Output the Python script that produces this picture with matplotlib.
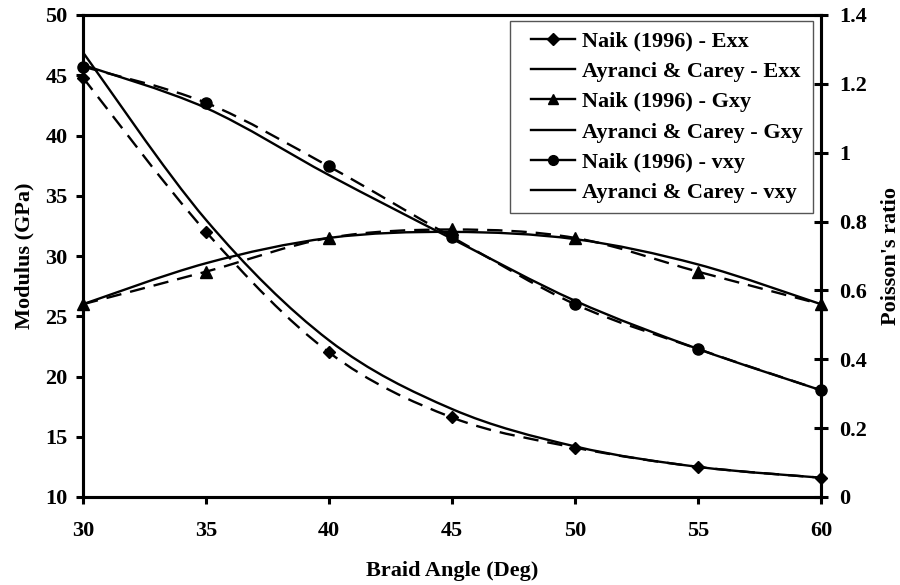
import numpy as np
import matplotlib.pyplot as plt
from matplotlib.path import Path
from matplotlib.patches import PathPatch
from matplotlib.lines import Line2D
from matplotlib.legend_handler import HandlerLine2D

plt.rcParams['font.family'] = ['Liberation Serif', 'DejaVu Serif']
plt.rcParams['font.weight'] = 'bold'

angle = [30, 35, 40, 45, 50, 55, 60]

naik_exx = [44.8, 32.0, 22.0, 16.6, 14.1, 12.5, 11.6]
ayr_exx = [46.9, 33.0, 23.0, 17.3, 14.2, 12.5, 11.6]
naik_gxy = [26.0, 28.7, 31.5, 32.2, 31.5, 28.7, 26.0]
ayr_gxy = [26.0, 29.4, 31.5, 32.0, 31.4, 29.3, 26.0]
naik_vxy = [1.25, 1.145, 0.96, 0.755, 0.56, 0.43, 0.31]
ayr_vxy = [1.255, 1.13, 0.935, 0.75, 0.57, 0.43, 0.31]

labels = ['Naik (1996) - Exx', 'Ayranci & Carey - Exx', 'Naik (1996) - Gxy',
          'Ayranci & Carey - Gxy', 'Naik (1996) - vxy', 'Ayranci & Carey - vxy']


def smooth_path(x, y):
    # excel style smoothed line: cubic bezier through every point
    p = np.column_stack([x, y]).astype(float)
    ext = np.vstack([p[0], p, p[-1]])
    verts = [p[0]]
    codes = [Path.MOVETO]
    for i in range(len(p) - 1):
        c1 = ext[i + 1] + (ext[i + 2] - ext[i]) / 6
        c2 = ext[i + 2] - (ext[i + 3] - ext[i + 1]) / 6
        verts += [c1, c2, ext[i + 2]]
        codes += [Path.CURVE4] * 3
    return Path(verts, codes)


dash = (0, (6.5, 3.8))
FS = 16
LW = 1.7

fig = plt.figure(figsize=(9, 5.85), dpi=100)
ax = fig.add_axes([83 / 900, 1 - 497 / 585, 738 / 900, 482 / 585])
ax2 = ax.twinx()

ax.set_xlim(30, 60)
ax.set_ylim(10, 50)
ax2.set_ylim(0, 1.4)


def draw(a, y, style, marker=None, ms=7):
    a.add_patch(PathPatch(smooth_path(angle, y), fill=False, lw=LW,
                          ls=style, edgecolor='black', clip_on=False))
    if marker:
        a.plot(angle, y, ls='none', marker=marker, ms=ms, color='black', clip_on=False, zorder=5)


draw(ax, naik_exx, dash, 'D', 6.5)
draw(ax, ayr_exx, '-')
draw(ax, naik_gxy, dash, '^', 8)
draw(ax, ayr_gxy, '-')
draw(ax2, naik_vxy, dash, 'o', 8)
draw(ax2, ayr_vxy, '-')

ax.set_xticks(angle)
ax.set_yticks(np.arange(10, 51, 5))
ax2.set_yticks([0, 0.2, 0.4, 0.6, 0.8, 1, 1.2, 1.4])
ax2.set_yticklabels(['0', '0.2', '0.4', '0.6', '0.8', '1', '1.2', '1.4'])

for a in (ax, ax2):
    for s in a.spines.values():
        s.set_linewidth(2.2)
ax.tick_params(axis='both', direction='out', width=2.2, length=5, labelsize=FS)
ax.tick_params(axis='y', pad=6)
ax.tick_params(axis='x', pad=12)
ax2.tick_params(axis='y', direction='inout', width=2.2, length=10, labelsize=FS, pad=8)

ax.set_xlabel('Braid Angle (Deg)', fontsize=FS, fontweight='bold', labelpad=15)
ax.set_ylabel('Modulus (GPa)', fontsize=FS, fontweight='bold', labelpad=8)
ax2.set_ylabel("Poisson's ratio", fontsize=FS, fontweight='bold', labelpad=10)

handles = [
    Line2D([], [], color='black', lw=LW, marker='D', ms=6),
    Line2D([], [], color='black', lw=LW),
    Line2D([], [], color='black', lw=LW, marker='^', ms=7),
    Line2D([], [], color='black', lw=LW),
    Line2D([], [], color='black', lw=LW, marker='o', ms=7),
    Line2D([], [], color='black', lw=LW),
]
leg = ax2.legend(handles, labels, loc='upper right', bbox_to_anchor=(813 / 900, 1 - 21 / 585),
                 bbox_transform=fig.transFigure, borderaxespad=0,
                 fancybox=False, framealpha=1, edgecolor='#555555',
                 prop={'size': FS, 'weight': 'bold'}, handlelength=2.5,
                 labelspacing=0.44, borderpad=0.45, handletextpad=0.3,
                 handler_map={Line2D: HandlerLine2D(xpad=0.5)})
leg.get_frame().set_linewidth(1)

fig.savefig('out.png', dpi=100)
